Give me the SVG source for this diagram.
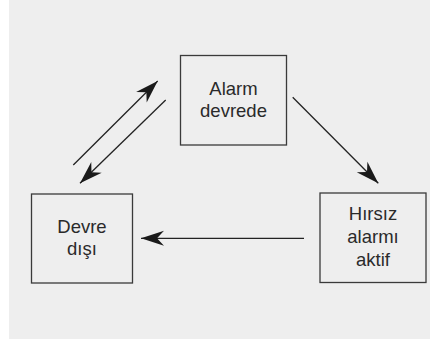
<svg xmlns="http://www.w3.org/2000/svg" width="430" height="340" viewBox="0 0 430 340">
<style>
.box{fill:none;stroke:#3a3a3a;stroke-width:1.3}
.lbl{font-family:"Liberation Sans",Arial,sans-serif;font-size:18.5px;fill:#2a2a2a;text-anchor:middle}
.edge{stroke:#222;stroke-width:1.3;fill:none;marker-end:url(#ah)}
</style>
<defs>
<marker id="ah" markerUnits="userSpaceOnUse" viewBox="-24 -9 25 18" refX="0" refY="0" markerWidth="25" markerHeight="18" orient="auto">
<path d="M0,0 L-23,-7.5 L-16,0 L-23,7.5 Z" fill="#1a1a1a"/>
</marker>
</defs>
<rect x="9" y="0" width="421" height="339" fill="#eeeeee"/>
<g id="connectors">
<line class="edge" x1="73.3" y1="165" x2="157.7" y2="81"/>
<line class="edge" x1="165.7" y1="100" x2="80" y2="183.3"/>
<line class="edge" x1="292.7" y1="97.3" x2="378.3" y2="183.3"/>
<line class="edge" x1="304" y1="238.3" x2="141" y2="238.3"/>
</g>
<g id="alarm-devrede">
<rect class="box" x="180.5" y="55.5" width="106" height="89.5"/>
<text class="lbl" x="233.5" y="95">Alarm</text>
<text class="lbl" x="233.5" y="116.5">devrede</text>
</g>
<g id="devre-disi">
<rect class="box" x="31.5" y="194" width="101" height="89"/>
<text class="lbl" x="82" y="232.5">Devre</text>
<text class="lbl" x="82" y="255">dışı</text>
</g>
<g id="hirsiz-alarmi-aktif">
<rect class="box" x="320" y="193" width="106" height="89.5"/>
<text class="lbl" x="373" y="220">Hırsız</text>
<text class="lbl" x="373" y="243">alarmı</text>
<text class="lbl" x="373" y="265.5">aktif</text>
</g>
</svg>
